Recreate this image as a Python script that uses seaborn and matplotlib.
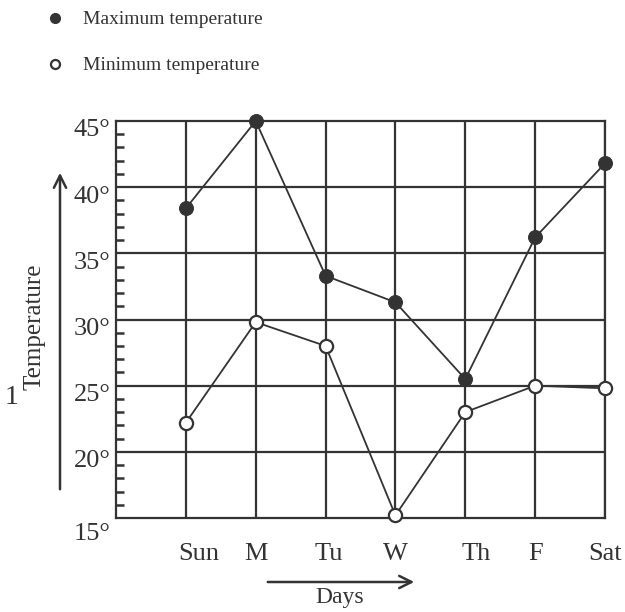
import matplotlib
matplotlib.use("Agg")
import matplotlib.pyplot as plt
import matplotlib.transforms as mtransforms
from matplotlib.lines import Line2D
from matplotlib.ticker import FixedLocator
import pandas as pd
import seaborn as sns

# Data
days = ["Sun", "M", "Tu", "W", "Th", "F", "Sat"]
max_temp = [38.4, 45.0, 33.3, 31.3, 25.5, 36.2, 41.8]
min_temp = [22.2, 29.8, 28.0, 15.2, 23.0, 25.0, 24.8]
y_ticks = [15, 20, 25, 30, 35, 40, 45]
y_tick_labels = ["15°", "20°", "25°", "30°", "35°", "40°", "45°"]

INK = "#333333"

sns.set_theme(style="white")
plt.rcParams["font.family"] = ["Liberation Serif", "DejaVu Serif"]
plt.rcParams["text.color"] = INK

df_max = pd.DataFrame({"day": days, "temp": max_temp})
df_min = pd.DataFrame({"day": days, "temp": min_temp})

fig = plt.figure(figsize=(6.25, 6.12), dpi=100)
ax = fig.add_axes([116 / 625, 1 - 518 / 612, (605 - 116) / 625, (518 - 121) / 612])

# grid first, data on top
for k in range(len(days)):
    ax.axvline(k, color=INK, lw=1.6, zorder=1)
for v in y_ticks[1:-1]:
    ax.axhline(v, color=INK, lw=1.6, zorder=1)

sns.lineplot(data=df_max, x="day", y="temp", ax=ax, sort=False, color=INK,
             lw=1.3, marker="o", markersize=10, markerfacecolor=INK,
             markeredgecolor=INK, clip_on=False, zorder=3)
sns.lineplot(data=df_min, x="day", y="temp", ax=ax, sort=False, color=INK,
             lw=1.3, marker="o", markersize=9.5, markerfacecolor="white",
             markeredgecolor=INK, markeredgewidth=1.6, clip_on=False, zorder=4)

ax.set_xlim(-1, len(days) - 1)
ax.set_ylim(15, 45)
ax.set_xlabel("")
ax.set_ylabel("")

for s in ax.spines.values():
    s.set_visible(True)
    s.set_color(INK)
    s.set_linewidth(1.6)

ax.yaxis.set_major_locator(FixedLocator(y_ticks))
ax.set_yticklabels(y_tick_labels)
ax.yaxis.set_minor_locator(FixedLocator([v for v in range(16, 45) if v % 5 != 0]))
ax.tick_params(axis="y", which="major", length=0, pad=4, labelsize=19, labelcolor=INK)
ax.tick_params(axis="y", which="minor", direction="in", length=6, width=1.8, color=INK, left=True)
ax.tick_params(axis="x", length=0, pad=18, labelsize=19, labelcolor=INK)

# labels in the drawing sit a little below their grid lines
for lab in ax.get_yticklabels():
    dy = -10 if lab.get_text() == "15°" else -5
    lab.set_transform(lab.get_transform() + mtransforms.ScaledTranslation(0, dy / 72, fig.dpi_scale_trans))
# and a few day names are nudged right of their column
x_nudge = {"Sun": 9, "Tu": 2, "Th": 8}
for lab in ax.get_xticklabels():
    dx = x_nudge.get(lab.get_text(), 0)
    lab.set_transform(lab.get_transform() + mtransforms.ScaledTranslation(dx / 72, 0, fig.dpi_scale_trans))

# axis captions with arrows
ax.annotate("", xy=(60 / 625, 1 - 170 / 612), xytext=(60 / 625, 1 - 492 / 612),
            xycoords="figure fraction", textcoords="figure fraction",
            arrowprops=dict(arrowstyle="->", color=INK, lw=1.8, mutation_scale=22))
fig.text(34 / 625, 1 - 327 / 612, "Temperature", rotation=90, ha="center", va="center",
         fontsize=18, color=INK)
fig.text(12 / 625, 1 - 398 / 612, "1", ha="center", va="center", fontsize=20, color=INK)

ax.annotate("", xy=(417 / 625, 1 - 582 / 612), xytext=(265 / 625, 1 - 582 / 612),
            xycoords="figure fraction", textcoords="figure fraction",
            arrowprops=dict(arrowstyle="->", color=INK, lw=1.8, mutation_scale=22))
fig.text(340 / 625, 1 - 598 / 612, "Days", ha="center", va="center", fontsize=17, color=INK)

# key at the top
fig.add_artist(Line2D([55 / 625], [1 - 18 / 612], marker="o", markersize=7,
                      markerfacecolor=INK, markeredgecolor=INK, transform=fig.transFigure))
fig.add_artist(Line2D([55 / 625], [1 - 64 / 612], marker="o", markersize=6.5,
                      markerfacecolor="white", markeredgecolor=INK, markeredgewidth=1.6,
                      transform=fig.transFigure))
fig.text(83 / 625, 1 - 19 / 612, "Maximum temperature", ha="left", va="center",
         fontsize=14, color=INK)
fig.text(83 / 625, 1 - 65 / 612, "Minimum temperature", ha="left", va="center",
         fontsize=14, color=INK)

fig.savefig("out.png", dpi=100)
